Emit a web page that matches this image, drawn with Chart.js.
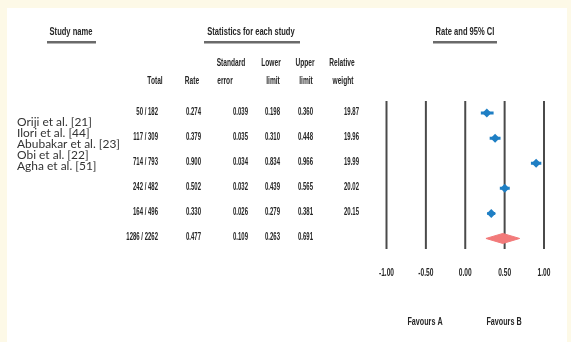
<!DOCTYPE html>
<html>
<head>
<meta charset="utf-8">
<script src="https://cdn.jsdelivr.net/npm/chart.js@4.4.1/dist/chart.umd.min.js"></script>
<style>
  html, body { margin: 0; padding: 0; overflow: hidden; background: #fdf9e7; }
  canvas { display: block; }
</style>
</head>
<body>
<canvas id="forest" width="571" height="342"></canvas>
<script>
// Study data
const studies = ['Oriji et al. [21]', 'Ilori et al. [44]', 'Abubakar et al. [23]', 'Obi et al. [22]', 'Agha et al. [51]'];
const totals = ['50 / 182', '117 / 309', '714 / 793', '242 / 482', '164 / 496'];
const rates = [0.274, 0.379, 0.900, 0.502, 0.330];
const stdErrors = [0.039, 0.035, 0.034, 0.032, 0.026];
const lowerLimits = [0.198, 0.310, 0.834, 0.439, 0.279];
const upperLimits = [0.360, 0.448, 0.966, 0.565, 0.381];
const weights = [19.87, 19.96, 19.99, 20.02, 20.15];

// Pooled estimate (last row)
const summaryTotal = '1286 / 2262';
const summaryRate = 0.477;
const summaryStdError = 0.109;
const summaryLower = 0.263;
const summaryUpper = 0.691;

// Axis ticks
const xTicks = [-1, -0.5, 0, 0.5, 1];
const xTickLabels = ['-1.00', '-0.50', '0.00', '0.50', '1.00'];

const BLUE = '#1f7fc4';
const PINK = '#f27a7a';
const TEXT = '#262626';

// draws text squeezed horizontally (the table uses a narrow font)
function squeezed(ctx, text, x, y, align, sx) {
    ctx.save();
    ctx.translate(x, y);
    ctx.scale(sx, 1);
    ctx.textAlign = align;
    ctx.fillText(text, 0, 0);
    ctx.restore();
}

const backgroundPlugin = {
    id: 'background',
    beforeDraw(chart) {
        const ctx = chart.ctx;
        ctx.save();
        ctx.fillStyle = '#fdf9e7';
        ctx.fillRect(0, 0, chart.width, chart.height);
        ctx.fillStyle = '#ffffff';
        ctx.fillRect(7, 8, 560, 334);
        ctx.restore();
    },
    beforeDatasetsDraw(chart) {
        // vertical reference lines at each tick
        const ctx = chart.ctx;
        const x = chart.scales.x;
        const area = chart.chartArea;
        ctx.save();
        ctx.strokeStyle = '#4a4a4a';
        ctx.lineWidth = 2;
        xTicks.forEach(t => {
            const px = x.getPixelForValue(t);
            ctx.beginPath();
            ctx.moveTo(px, area.top);
            ctx.lineTo(px, area.bottom);
            ctx.stroke();
        });
        ctx.restore();
    }
};

const tablePlugin = {
    id: 'table',
    afterDraw(chart) {
        const ctx = chart.ctx;
        const x = chart.scales.x;
        const y = chart.scales.y;
        ctx.save();
        ctx.fillStyle = TEXT;
        ctx.textBaseline = 'middle';

        // section titles with thick underline
        ctx.font = 'bold 10.5px "Liberation Sans", Arial, sans-serif';
        squeezed(ctx, 'Study name', 71, 32, 'center', 0.72);
        squeezed(ctx, 'Statistics for each study', 251, 32, 'center', 0.72);
        squeezed(ctx, 'Rate and 95% CI', 465, 32, 'center', 0.72);
        ctx.fillStyle = '#6a6a6a';
        ctx.fillRect(47, 41, 49, 2.5);
        ctx.fillRect(204, 41, 96, 2.5);
        ctx.fillRect(433, 41, 64, 2.5);

        // column headers
        ctx.fillStyle = TEXT;
        ctx.font = 'bold 10px "Liberation Sans", Arial, sans-serif';
        const hs = 0.66;
        squeezed(ctx, 'Standard', 231, 63, 'center', hs);
        squeezed(ctx, 'Lower', 271, 63, 'center', hs);
        squeezed(ctx, 'Upper', 305, 63, 'center', hs);
        squeezed(ctx, 'Relative', 342, 63, 'center', hs);
        squeezed(ctx, 'Total', 155, 81, 'center', hs);
        squeezed(ctx, 'Rate', 192, 81, 'center', hs);
        squeezed(ctx, 'error', 225, 81, 'center', hs);
        squeezed(ctx, 'limit', 273, 81, 'center', hs);
        squeezed(ctx, 'limit', 306, 81, 'center', hs);
        squeezed(ctx, 'weight', 343, 81, 'center', hs);

        // numeric rows aligned with the plot rows
        const ds = 0.6;
        const row = (i, cells) => {
            const py = y.getPixelForValue(i) - 1;
            squeezed(ctx, cells[0], 158, py, 'right', ds);
            squeezed(ctx, cells[1], 201, py, 'right', ds);
            squeezed(ctx, cells[2], 248, py, 'right', ds);
            squeezed(ctx, cells[3], 280, py, 'right', ds);
            squeezed(ctx, cells[4], 313, py, 'right', ds);
            if (cells[5]) squeezed(ctx, cells[5], 359, py, 'right', ds);
        };
        studies.forEach((s, i) => {
            row(i, [totals[i], rates[i].toFixed(3), stdErrors[i].toFixed(3),
                    lowerLimits[i].toFixed(3), upperLimits[i].toFixed(3), weights[i].toFixed(2)]);
        });
        row(studies.length, [summaryTotal, summaryRate.toFixed(3), summaryStdError.toFixed(3),
                             summaryLower.toFixed(3), summaryUpper.toFixed(3), '']);

        // study names (set in a different face)
        ctx.fillStyle = '#333333';
        ctx.font = '11.5px Lato, "Open Sans", sans-serif';
        const widest = ctx.measureText('Abubakar et al. [23]').width;
        const ns = 103 / widest;
        studies.forEach((s, i) => {
            squeezed(ctx, s, 17, 122 + i * 11, 'left', ns);
        });

        // x tick labels and favours captions
        ctx.fillStyle = TEXT;
        ctx.font = 'bold 10px "Liberation Sans", Arial, sans-serif';
        xTicks.forEach((t, i) => {
            squeezed(ctx, xTickLabels[i], x.getPixelForValue(t), 273, 'center', 0.66);
        });
        squeezed(ctx, 'Favours A', 425, 322, 'center', 0.72);
        squeezed(ctx, 'Favours B', 504, 322, 'center', 0.72);
        ctx.restore();
    }
};

// one short line per study for its confidence interval
const ciDatasets = studies.map((s, i) => ({
    type: 'line',
    label: s,
    data: [{ x: lowerLimits[i], y: i }, { x: upperLimits[i], y: i }],
    borderColor: BLUE,
    borderWidth: 3,
    pointRadius: 0,
    showLine: true
}));

const summaryRow = studies.length;

new Chart(document.getElementById('forest').getContext('2d'), {
    type: 'scatter',
    data: {
        datasets: [
            ...ciDatasets,
            {
                label: 'Rate',
                data: rates.map((r, i) => ({ x: r, y: i })),
                pointStyle: 'rectRot',
                pointRadius: 4.5,
                backgroundColor: BLUE,
                borderWidth: 0
            },
            {
                type: 'line',
                label: 'Pooled',
                data: [
                    { x: summaryLower, y: summaryRow },
                    { x: summaryRate, y: summaryRow - 0.2 },
                    { x: summaryUpper, y: summaryRow },
                    { x: summaryRate, y: summaryRow + 0.2 },
                    { x: summaryLower, y: summaryRow }
                ],
                borderColor: PINK,
                borderWidth: 1,
                backgroundColor: PINK,
                fill: 'shape',
                tension: 0,
                pointRadius: 0,
                showLine: true
            }
        ]
    },
    options: {
        responsive: false,
        animation: false,
        devicePixelRatio: 1,
        layout: {
            padding: { left: 386.5, right: 27, top: 101, bottom: 93 }
        },
        plugins: {
            legend: { display: false },
            tooltip: { enabled: false }
        },
        scales: {
            x: { type: 'linear', min: -1, max: 1, display: false },
            y: { type: 'linear', min: -0.48, max: 5.42, reverse: true, display: false }
        }
    },
    plugins: [backgroundPlugin, tablePlugin]
});
</script>
</body>
</html>
